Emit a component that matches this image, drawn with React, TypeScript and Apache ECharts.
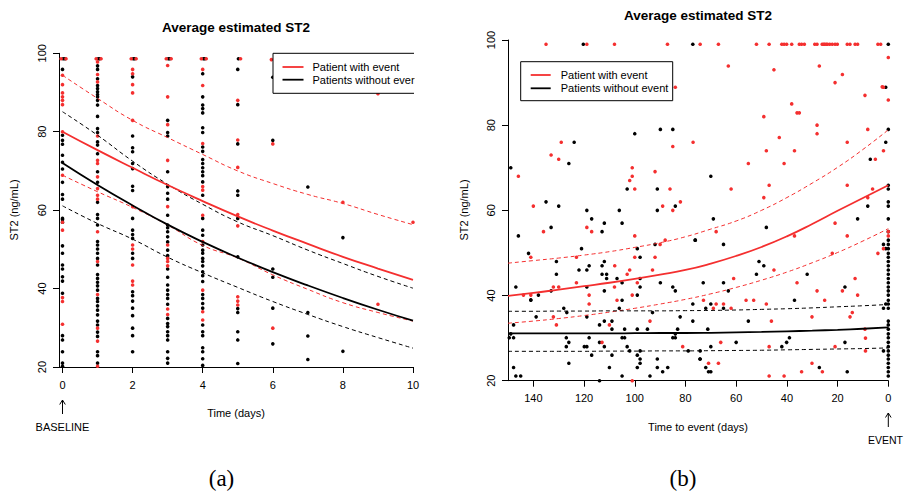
import React, { useEffect, useRef } from "react";
import * as echarts from "echarts";

const RED = "#f42f2f";
const BLACK = "#000000";
const FONT = "'Liberation Sans', Arial, Helvetica, sans-serif";
const SERIF = "'Liberation Serif', 'DejaVu Serif', serif";

// ---------- Panel (a): time since baseline ----------
const aDays = [0, 1, 2, 3, 4, 5, 6, 7, 8, 9, 10];
const aRedFit = [80.0, 75.3, 70.8, 66.4, 62.3, 58.4, 54.8, 51.4, 48.1, 45.1, 42.2];
const aRedUpper = [94.4, 88.5, 82.9, 78.5, 74.2, 70.0, 66.8, 64.0, 61.7, 58.9, 56.3];
const aRedLower = [68.9, 64.7, 60.7, 56.2, 51.0, 47.8, 43.5, 39.8, 36.4, 33.9, 31.7];
const aBlackFit = [72.0, 66.4, 61.2, 56.3, 51.9, 47.9, 44.2, 40.8, 37.6, 34.6, 31.8];
const aBlackUpper = [85.1, 79.1, 72.5, 66.6, 61.5, 57.0, 53.5, 49.8, 46.4, 43.1, 40.1];
const aBlackLower = [61.1, 56.6, 52.6, 48.0, 44.0, 40.3, 36.7, 33.4, 30.3, 27.5, 24.8];
const aTicks = [0, 2, 4, 6, 8, 10];

// observed values per day (index = day)
const aBlackByDay: number[][] = [
  [95.9, 79.1, 77.8, 76.8, 74.0, 72.2, 70.5, 67.1, 64.0, 62.8, 57.9, 57.6, 56.9, 50.9, 49.0, 46.0, 45.0, 43.0, 41.9, 38.8, 28.0, 26.9, 23.9, 21.0, 20.2],
  [96.8, 95.9, 93.5, 91.8, 91.0, 90.2, 89.5, 88.9, 88.0, 86.8, 83.9, 80.8, 79.8, 77.4, 76.6, 74.4, 69.8, 67.1, 62.0, 58.9, 57.9, 56.2, 52.0, 51.1, 50.1, 49.0, 47.7, 46.0, 43.6, 42.6, 41.6, 40.7, 39.6, 37.5, 36.7, 35.6, 34.5, 33.3, 31.7, 30.7, 28.9, 27.8, 23.9, 22.9, 21.0],
  [94.0, 78.9, 75.9, 74.9, 71.9, 70.6, 66.1, 65.0, 57.9, 54.9, 53.8, 52.8, 49.0, 47.7, 39.2, 38.2, 36.8, 35.0, 33.1, 29.9, 28.0, 23.9],
  [82.9, 79.8, 78.9, 69.8, 66.0, 64.3, 62.8, 58.7, 56.2, 55.5, 54.5, 53.2, 51.9, 49.8, 48.4, 45.0, 42.9, 40.9, 39.6, 38.5, 37.5, 36.0, 32.4, 31.1, 30.3, 29.0, 28.0, 26.9, 23.9, 22.2, 21.0],
  [94.8, 88.9, 86.8, 85.9, 84.8, 81.0, 79.8, 76.1, 75.0, 72.9, 71.9, 70.8, 69.8, 68.8, 67.2, 63.8, 57.9, 54.9, 53.6, 51.1, 49.8, 49.0, 47.7, 46.9, 45.8, 44.3, 43.3, 41.8, 38.5, 37.5, 36.2, 35.0, 30.7, 29.0, 28.0, 24.9, 23.9, 22.1, 20.4],
  [95.9, 86.9, 76.9, 64.9, 63.8, 57.9, 48.1, 34.9, 33.9, 29.0, 26.9, 20.9],
  [93.9, 77.8, 45.0, 42.9, 35.0, 25.9],
  [65.9, 33.9, 27.9, 21.9],
  [53.0, 24.0],
  [],
  [],
];
const aRedByDay: number[][] = [
  [94.4, 92.0, 89.9, 88.9, 88.0, 86.9, 80.0, 68.9, 56.9, 54.9, 37.7, 36.7, 30.9],
  [97.8, 94.6, 92.7, 78.9, 72.7, 71.9, 68.5, 65.5, 63.8, 62.8, 54.5, 46.9, 38.5, 29.9, 26.6, 20.2],
  [95.9, 94.8, 92.0, 89.9, 82.9, 60.9, 51.1, 50.1, 46.0, 41.9, 40.9],
  [96.9, 88.9, 81.8, 72.7, 60.9, 51.1, 47.7, 46.9, 45.8, 34.8, 33.4],
  [95.9, 91.8, 77.0, 66.0, 65.1, 58.7, 52.0, 39.6, 34.1, 32.0],
  [88.0, 77.9, 70.9, 58.9, 56.0, 37.9, 36.8, 35.8],
  [76.9, 29.9],
  [],
  [62.0],
  [89.7, 36.0],
  [56.9],
];
// capped values at the top of the panel (slightly spread around each day)
const aTopRed = [[-0.04, 98.6], [0.1, 98.6], [0.96, 98.6], [1.1, 98.6], [1.96, 98.6], [2.1, 98.6], [2.96, 98.6], [3.1, 98.6], [3.96, 98.6], [4.1, 98.6], [5.08, 98.6], [5.96, 98.4]];
const aTopBlack = [[0.02, 98.6], [0.07, 98.6], [1.02, 98.6], [1.06, 98.6], [2.02, 98.6], [2.06, 98.6], [3.02, 98.6], [3.06, 98.6], [4.02, 98.6], [4.06, 98.6], [5.02, 98.6]];

// ---------- Panel (b): time to event ----------
const bDays = [150, 140, 130, 120, 110, 100, 90, 80, 70, 60, 50, 40, 30, 20, 10, 0];
const bRedFit = [39.9, 40.6, 41.4, 42.2, 43.0, 43.9, 44.9, 46.0, 47.5, 49.3, 51.4, 53.9, 56.8, 59.9, 62.9, 65.9];
const bRedUpper = [47.6, 48.2, 48.8, 49.5, 50.3, 51.3, 52.4, 53.8, 55.6, 57.5, 60.0, 63.0, 66.4, 70.1, 74.3, 78.9];
const bRedLower = [33.5, 34.0, 34.6, 35.3, 36.1, 37.0, 38.0, 39.1, 40.4, 41.9, 43.6, 45.5, 47.7, 50.1, 52.8, 55.7];
const bBlackFit = [31.1, 31.1, 31.1, 31.1, 31.1, 31.15, 31.2, 31.2, 31.25, 31.35, 31.45, 31.6, 31.75, 31.95, 32.2, 32.5];
const bBlackUpper = [36.3, 36.3, 36.35, 36.35, 36.4, 36.4, 36.4, 36.45, 36.5, 36.6, 36.75, 36.9, 37.1, 37.35, 37.6, 37.9];
const bBlackLower = [26.9, 26.9, 26.9, 26.9, 26.95, 26.95, 27.0, 27.0, 27.05, 27.1, 27.15, 27.25, 27.35, 27.45, 27.55, 27.7];
const bTicks = [0, 20, 40, 60, 80, 100, 120, 140];

const bTopRedDays = [135.0, 118.9, 108.0, 87.1, 74.2, 67.0, 52.0, 47.0, 42.0, 41.1, 40.1, 38.1, 35.1, 34.2, 33.1, 29.0, 28.1, 26.1, 25.5, 25.1, 24.5, 24.0, 23.1, 22.1, 21.0, 20.1, 16.2, 15.1, 13.1, 12.1, 4.1, 3.0];
const bTopBlackDays = [120.3, 77.1, 0];
const bBlackAtEvent = [79.0, 65.9, 65.0, 62.0, 61.0, 58.0, 55.0, 53.0, 52.0, 51.0, 49.9, 49.0, 48.0, 47.0, 46.0, 45.0, 44.0, 43.0, 42.0, 41.1, 40.1, 38.9, 38.0, 37.0, 34.0, 33.1, 32.1, 31.0, 30.1, 29.0, 28.0, 27.0, 26.0, 25.1, 24.1, 23.1, 22.1, 21.1];
const bRedAtEvent = [95.9, 85.9, 55.0, 54.0];
const bBlackPts = [
  [148.9, 70.0], [145.9, 54.0], [135.0, 62.0], [133.0, 56.0], [130.0, 61.0], [123.9, 76.0], [126.0, 71.0], [130.9, 48.0], [130.9, 45.0], [141.9, 49.9],
  [146.9, 42.0], [141.0, 38.9], [138.0, 40.1], [133.0, 41.1], [138.9, 35.0], [128.0, 37.0], [126.8, 36.0], [121.0, 51.0], [122.0, 46.0], [118.9, 46.0],
  [118.0, 47.0], [118.9, 42.0], [118.9, 35.0], [118.9, 60.0], [117.0, 58.0], [112.9, 55.0], [112.0, 57.0], [112.9, 47.0], [112.0, 48.0], [111.1, 45.0],
  [111.1, 44.0], [112.9, 45.0], [112.0, 41.1], [113.9, 33.1], [112.0, 34.0], [109.0, 34.0], [109.0, 32.1], [107.0, 44.0], [106.1, 60.0], [105.0, 57.0],
  [105.0, 38.9], [106.1, 37.0], [105.0, 43.0], [103.0, 65.0], [100.0, 78.0], [99.0, 51.0], [97.9, 49.0], [97.9, 44.0], [97.9, 42.0], [99.0, 40.1],
  [99.0, 32.1], [95.0, 32.1], [104.0, 32.1], [104.0, 30.1], [105.0, 30.1], [105.0, 21.1], [103.0, 28.0], [102.0, 27.0], [99.0, 26.0], [97.9, 27.0],
  [97.9, 25.1], [97.9, 24.1], [99.0, 23.1], [94.0, 21.1], [93.0, 36.0], [91.1, 65.0], [92.0, 52.0], [89.9, 43.0], [91.1, 60.0], [84.0, 61.0],
  [89.9, 79.0], [85.0, 79.0], [76.1, 53.0], [85.0, 42.0], [84.0, 41.1], [77.1, 38.0], [82.1, 35.0], [83.1, 32.1], [84.0, 31.0], [85.0, 30.1],
  [84.0, 30.1], [78.9, 27.0], [77.1, 34.0], [74.3, 25.1], [91.1, 25.1], [91.1, 23.1], [89.0, 22.1], [87.0, 23.1], [148.9, 31.0], [147.8, 30.1],
  [149.5, 30.1], [147.8, 23.1], [146.9, 21.1], [145.0, 21.1], [147.8, 33.1], [127.0, 30.1], [126.0, 29.0], [126.0, 24.1], [127.0, 28.0], [119.9, 28.0],
  [118.9, 28.0], [118.0, 30.1], [117.0, 26.0], [113.9, 29.0], [112.0, 28.0], [109.0, 26.0], [110.0, 23.1], [113.9, 20.0],
  [70.0, 68.0], [69.0, 58.0], [48.1, 56.0], [12.1, 58.0], [76.2, 53.0], [65.0, 52.0], [1.9, 52.0], [1.0, 51.0], [51.0, 48.0], [49.1, 47.0],
  [52.0, 45.0], [32.0, 45.0], [73.0, 43.0], [65.0, 43.0], [17.1, 42.0], [63.1, 41.1], [37.0, 38.9], [70.0, 38.0], [72.0, 37.0], [65.0, 37.0],
  [1.0, 38.0], [1.9, 37.0], [55.2, 34.0], [71.2, 32.1], [39.0, 30.1], [40.1, 29.0], [60.0, 29.0], [17.1, 29.0], [70.0, 28.0], [42.0, 28.0],
  [1.9, 27.0], [74.2, 27.0], [74.2, 25.1], [72.0, 23.1], [27.2, 23.1], [70.9, 22.1], [70.0, 22.1], [16.2, 22.1], [8.1, 61.0], [7.1, 72.0],
  [1.0, 88.9], [1.0, 76.0], [141.0, 39.0],
];
const bRedPts = [
  [145.9, 68.0], [140.0, 61.0], [133.0, 73.0], [130.0, 72.0], [136.0, 55.0], [129.0, 76.0], [141.0, 49.0], [143.9, 40.1], [141.0, 40.1], [132.1, 42.0],
  [130.0, 42.0], [132.1, 35.0], [130.9, 33.1], [123.0, 49.0], [123.0, 43.0], [118.0, 40.1], [118.0, 38.0], [118.9, 56.0], [117.0, 55.0], [107.9, 47.0],
  [108.0, 42.0], [110.0, 33.1], [107.0, 38.9], [103.0, 45.0], [102.0, 46.0], [102.0, 67.0], [101.0, 68.0], [101.0, 70.0], [100.0, 65.0], [100.0, 54.0],
  [100.0, 49.0], [99.0, 43.0], [101.0, 40.1], [101.0, 20.0], [94.0, 34.0], [92.0, 69.1], [90.0, 52.0], [92.0, 49.0], [93.0, 46.0], [89.0, 61.0],
  [88.0, 53.0], [86.1, 65.0], [85.0, 60.0], [82.0, 62.0], [85.0, 75.0], [84.0, 88.9], [77.0, 76.0], [81.1, 28.0], [112.9, 29.0],
  [63.1, 93.9], [45.1, 93.0], [27.2, 93.9], [18.1, 91.9], [21.0, 90.0], [1.9, 88.9], [49.1, 82.0], [38.1, 85.0], [36.0, 82.9], [35.1, 82.9],
  [28.1, 80.0], [28.1, 78.0], [8.1, 79.0], [16.2, 76.0], [43.0, 77.1], [48.1, 74.0], [37.0, 74.0], [1.9, 74.0], [55.2, 71.0], [41.1, 71.0],
  [5.1, 72.0], [62.0, 65.0], [47.0, 65.9], [49.1, 63.0], [16.2, 65.9], [6.2, 65.0], [8.1, 63.0], [67.9, 55.0], [21.0, 57.0], [37.0, 54.0],
  [16.2, 54.0], [1.9, 51.0], [4.1, 49.9], [22.1, 49.9], [45.1, 46.0], [61.0, 44.0], [36.0, 43.0], [13.1, 44.0], [28.1, 41.1], [18.1, 41.1],
  [12.1, 40.1], [72.9, 38.9], [56.1, 38.9], [53.1, 38.9], [25.1, 38.9], [67.9, 38.0], [65.0, 38.0], [48.1, 38.0], [69.0, 37.0], [62.0, 37.0],
  [14.2, 36.0], [46.1, 34.0], [30.1, 35.0], [15.1, 35.0], [9.2, 32.1], [9.0, 30.0], [66.1, 29.0], [47.0, 28.0], [21.0, 28.0], [9.0, 27.0],
  [70.9, 24.1], [67.0, 24.1], [30.1, 24.1], [26.0, 22.1], [34.2, 22.1], [47.0, 21.1], [41.1, 21.1], [2.4, 89.0], [9.2, 87.0],
];

function pair(xs: number[], ys: number[]) {
  return xs.map((x, i) => [x, ys[i]]);
}

function makeAxes(gridIndex: number, isB: boolean) {
  const common = {
    gridIndex,
    type: "value" as const,
    splitLine: { show: false },
    axisLine: { show: true, onZero: false, lineStyle: { color: BLACK, width: 1 } },
    axisTick: { show: true, inside: false, length: 6, lineStyle: { color: BLACK, width: 1 } },
  };
  const x = {
    ...common,
    min: isB ? 0 : -0.1,
    max: isB ? 150 : 10,
    inverse: isB,
    axisTick: { ...common.axisTick, customValues: isB ? bTicks : aTicks },
    axisLabel: {
      customValues: isB ? bTicks : aTicks,
      color: BLACK, fontFamily: FONT, fontSize: 11, margin: 12,
    },
  };
  const y = {
    ...common,
    min: 20,
    max: 100,
    interval: 20,
    axisLabel: { color: BLACK, fontFamily: FONT, fontSize: 11, margin: 12, rotate: 90 },
  };
  return { x, y };
}

function scatter(idx: number, data: number[][], color: string) {
  return {
    type: "scatter", xAxisIndex: idx, yAxisIndex: idx, data, symbol: "circle", symbolSize: 3.6,
    itemStyle: { color, opacity: 1 }, silent: true, z: 2,
  };
}
function curve(idx: number, data: number[][], color: string, dashed: boolean) {
  return {
    type: "line", xAxisIndex: idx, yAxisIndex: idx, data, smooth: true, showSymbol: false, symbol: "none",
    lineStyle: { color, width: dashed ? 1 : 1.8, type: dashed ? [4, 3] : "solid" }, silent: true, z: 3,
  };
}

function txt(x: number, y: number, text: string, extra: any = {}, rot = 0) {
  return {
    type: "text", x, y, rotation: rot, z: 100,
    style: { text, fill: BLACK, fontFamily: FONT, fontSize: 11, align: "center", verticalAlign: "middle", ...extra },
  };
}
function ln(x1: number, y1: number, x2: number, y2: number, color = BLACK, w = 1) {
  return { type: "line", z: 100, shape: { x1, y1, x2, y2 }, style: { stroke: color, lineWidth: w } };
}
function arrow(x: number, yTop: number, yBot: number) {
  return [
    ln(x, yTop, x, yBot),
    { type: "polyline", z: 100, shape: { points: [[x - 2.8, yTop + 4.5], [x, yTop], [x + 2.8, yTop + 4.5]] }, style: { stroke: BLACK, lineWidth: 1, fill: "none" } },
  ];
}

export default function App() {
  const ref = useRef<HTMLDivElement>(null);
  useEffect(() => {
    if (!ref.current) return;
    const chart = echarts.init(ref.current, null, { renderer: "svg" });
    const A = makeAxes(0, false);
    const B = makeAxes(1, true);

    const aBlack = aBlackByDay.flatMap((vals, d) => vals.map((v) => [d, v])).concat(aTopBlack);
    const aRed = aRedByDay.flatMap((vals, d) => vals.map((v) => [d, v])).concat(aTopRed);
    const bBlack = bBlackPts
      .concat(bBlackAtEvent.map((v) => [0, v]))
      .concat(bTopBlackDays.map((d) => [d, 99.0]));
    const bRed = bRedPts
      .concat(bRedAtEvent.map((v) => [0, v]))
      .concat(bTopRedDays.map((d) => [d, 99.0]));

    const legendA = [
      { type: "rect", z: 99, shape: { x: 273, y: 53.3, width: 142, height: 40 }, style: { fill: "#fff", stroke: "none" } },
      ln(273, 53.3, 414, 53.3), ln(273, 53.3, 273, 93.3), ln(273, 93.3, 414, 93.3),
      ln(282.5, 67, 303.5, 67, RED, 1.8), ln(282.5, 79.7, 303.5, 79.7, BLACK, 1.8),
      txt(312.5, 67, "Patient with event", { align: "left" }),
      txt(312.5, 79.7, "Patients without event", { align: "left" }),
      { type: "rect", z: 101, shape: { x: 414.5, y: 50, width: 45, height: 46 }, style: { fill: "#fff", stroke: "none" } },
    ];
    const legendB = [
      { type: "rect", z: 99, shape: { x: 520.7, y: 61.7, width: 152, height: 39 }, style: { fill: "#fff", stroke: BLACK, lineWidth: 1 } },
      ln(530.7, 75, 550.7, 75, RED, 1.8), ln(530.7, 88.3, 550.7, 88.3, BLACK, 1.8),
      txt(560.7, 75, "Patient with event", { align: "left" }),
      txt(560.7, 88.3, "Patients without event", { align: "left" }),
    ];

    const option: any = {
      animation: false,
      backgroundColor: "#ffffff",
      textStyle: { fontFamily: FONT },
      grid: [
        { left: 59, top: 53.3, width: 354, height: 313.7, outerBoundsMode: "none", containLabel: false },
        { left: 508, top: 40, width: 380.3, height: 340.7, outerBoundsMode: "none", containLabel: false },
      ],
      xAxis: [A.x, B.x],
      yAxis: [A.y, B.y],
      series: [
        scatter(0, aBlack, BLACK),
        scatter(0, aRed, RED),
        curve(0, pair(aDays, aRedUpper), RED, true),
        curve(0, pair(aDays, aRedLower), RED, true),
        curve(0, pair(aDays, aBlackUpper), BLACK, true),
        curve(0, pair(aDays, aBlackLower), BLACK, true),
        curve(0, pair(aDays, aRedFit), RED, false),
        curve(0, pair(aDays, aBlackFit), BLACK, false),
        scatter(1, bBlack, BLACK),
        scatter(1, bRed, RED),
        curve(1, pair(bDays, bRedUpper), RED, true),
        curve(1, pair(bDays, bRedLower), RED, true),
        curve(1, pair(bDays, bBlackUpper), BLACK, true),
        curve(1, pair(bDays, bBlackLower), BLACK, true),
        curve(1, pair(bDays, bRedFit), RED, false),
        curve(1, pair(bDays, bBlackFit), BLACK, false),
      ],
      graphic: [
        txt(236, 27, "Average estimated ST2", { fontWeight: "bold", fontSize: 13.5 }),
        txt(698, 15, "Average estimated ST2", { fontWeight: "bold", fontSize: 13.5 }),
        txt(14, 210, "ST2 (ng/mL)", {}, Math.PI / 2),
        txt(463.5, 210, "ST2 (ng/mL)", {}, Math.PI / 2),
        txt(236, 413, "Time (days)"),
        txt(698, 427, "Time to event (days)"),
        ...arrow(62.5, 400, 414),
        txt(62.5, 427, "BASELINE"),
        ...arrow(888.3, 413, 427),
        txt(885.5, 440, "EVENT", { fontSize: 10.5 }),
        txt(221.5, 478, "(a)", { fontFamily: SERIF, fontSize: 23 }),
        txt(683, 478, "(b)", { fontFamily: SERIF, fontSize: 23 }),
        ...legendA,
        ...legendB,
      ],
    };
    chart.setOption(option);
    return () => chart.dispose();
  }, []);
  return <div ref={ref} style={{ position: "absolute", left: 0, top: 0, width: 905, height: 491 }} />;
}
